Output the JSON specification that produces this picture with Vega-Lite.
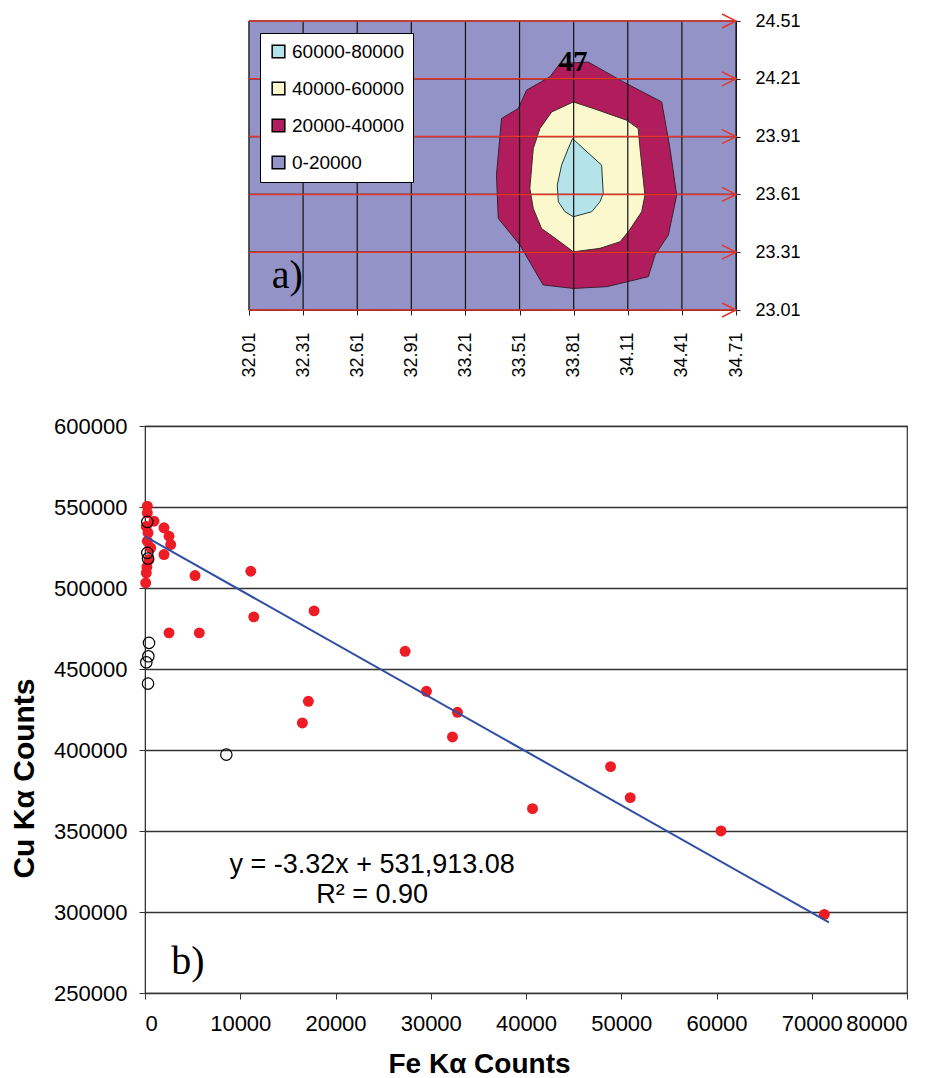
{
  "$schema": "https://vega.github.io/schema/vega-lite/v6.json",
  "background": "white",
  "padding": {"left": 8, "top": 10, "right": 5, "bottom": 0},
  "spacing": 36,
  "config": {
    "font": "Liberation Sans",
    "view": {"stroke": "#333", "strokeWidth": 1.2},
    "axis": {"labelColor": "#000", "domainColor": "#222", "tickColor": "#222", "labelFont": "Liberation Sans", "titleColor": "#000", "titleFont": "Liberation Sans"}
  },
  "datasets": {
    "poly": [
      {"band": "0-20000", "i": 0, "x": 32.01, "y": 23.01},
      {"band": "0-20000", "i": 1, "x": 34.71, "y": 23.01},
      {"band": "0-20000", "i": 2, "x": 34.71, "y": 24.51},
      {"band": "0-20000", "i": 3, "x": 32.01, "y": 24.51},
      {"band": "20000-40000", "i": 0, "x": 33.891, "y": 24.297},
      {"band": "20000-40000", "i": 1, "x": 34.085, "y": 24.194},
      {"band": "20000-40000", "i": 2, "x": 34.298, "y": 24.09},
      {"band": "20000-40000", "i": 3, "x": 34.344, "y": 23.848},
      {"band": "20000-40000", "i": 4, "x": 34.381, "y": 23.606},
      {"band": "20000-40000", "i": 5, "x": 34.335, "y": 23.399},
      {"band": "20000-40000", "i": 6, "x": 34.261, "y": 23.295},
      {"band": "20000-40000", "i": 7, "x": 34.224, "y": 23.183},
      {"band": "20000-40000", "i": 8, "x": 33.993, "y": 23.131},
      {"band": "20000-40000", "i": 9, "x": 33.808, "y": 23.122},
      {"band": "20000-40000", "i": 10, "x": 33.641, "y": 23.14},
      {"band": "20000-40000", "i": 11, "x": 33.512, "y": 23.347},
      {"band": "20000-40000", "i": 12, "x": 33.392, "y": 23.485},
      {"band": "20000-40000", "i": 13, "x": 33.382, "y": 23.71},
      {"band": "20000-40000", "i": 14, "x": 33.41, "y": 24.004},
      {"band": "20000-40000", "i": 15, "x": 33.503, "y": 24.056},
      {"band": "20000-40000", "i": 16, "x": 33.549, "y": 24.151},
      {"band": "20000-40000", "i": 17, "x": 33.678, "y": 24.22},
      {"band": "20000-40000", "i": 18, "x": 33.734, "y": 24.289},
      {"band": "40000-60000", "i": 0, "x": 33.808, "y": 24.09},
      {"band": "40000-60000", "i": 1, "x": 33.919, "y": 24.056},
      {"band": "40000-60000", "i": 2, "x": 34.104, "y": 23.995},
      {"band": "40000-60000", "i": 3, "x": 34.168, "y": 23.952},
      {"band": "40000-60000", "i": 4, "x": 34.178, "y": 23.848},
      {"band": "40000-60000", "i": 5, "x": 34.205, "y": 23.606},
      {"band": "40000-60000", "i": 6, "x": 34.187, "y": 23.52},
      {"band": "40000-60000", "i": 7, "x": 34.113, "y": 23.416},
      {"band": "40000-60000", "i": 8, "x": 34.067, "y": 23.364},
      {"band": "40000-60000", "i": 9, "x": 33.956, "y": 23.33},
      {"band": "40000-60000", "i": 10, "x": 33.808, "y": 23.312},
      {"band": "40000-60000", "i": 11, "x": 33.734, "y": 23.364},
      {"band": "40000-60000", "i": 12, "x": 33.632, "y": 23.433},
      {"band": "40000-60000", "i": 13, "x": 33.586, "y": 23.537},
      {"band": "40000-60000", "i": 14, "x": 33.567, "y": 23.641},
      {"band": "40000-60000", "i": 15, "x": 33.586, "y": 23.848},
      {"band": "40000-60000", "i": 16, "x": 33.623, "y": 23.952},
      {"band": "40000-60000", "i": 17, "x": 33.688, "y": 24.038},
      {"band": "60000-80000", "i": 0, "x": 33.804, "y": 23.9},
      {"band": "60000-80000", "i": 1, "x": 33.873, "y": 23.84},
      {"band": "60000-80000", "i": 2, "x": 33.965, "y": 23.762},
      {"band": "60000-80000", "i": 3, "x": 33.974, "y": 23.615},
      {"band": "60000-80000", "i": 4, "x": 33.956, "y": 23.572},
      {"band": "60000-80000", "i": 5, "x": 33.91, "y": 23.52},
      {"band": "60000-80000", "i": 6, "x": 33.808, "y": 23.494},
      {"band": "60000-80000", "i": 7, "x": 33.762, "y": 23.52},
      {"band": "60000-80000", "i": 8, "x": 33.725, "y": 23.572},
      {"band": "60000-80000", "i": 9, "x": 33.719, "y": 23.658},
      {"band": "60000-80000", "i": 10, "x": 33.743, "y": 23.762},
      {"band": "60000-80000", "i": 11, "x": 33.78, "y": 23.848}
    ],
    "gridx": [{"x": 32.01}, {"x": 32.31}, {"x": 32.61}, {"x": 32.91}, {"x": 33.21}, {"x": 33.51}, {"x": 33.81}, {"x": 34.11}, {"x": 34.41}, {"x": 34.71}],
    "arrows": [
      {"y": 23.01, "x": 32.01, "x2": 34.71},
      {"y": 23.31, "x": 32.01, "x2": 34.71},
      {"y": 23.61, "x": 32.01, "x2": 34.71},
      {"y": 23.91, "x": 32.01, "x2": 34.71},
      {"y": 24.21, "x": 32.01, "x2": 34.71},
      {"y": 24.51, "x": 32.01, "x2": 34.71}
    ],
    "labelsA": [
      {"x": 33.806, "y": 24.298, "label": "47", "kind": "peak"},
      {"x": 32.222, "y": 23.184, "label": "a)", "kind": "panel"}
    ],
    "red": [
      {"fe": 242, "cu": 550477}, {"fe": 242, "cu": 546400}, {"fe": 945, "cu": 541214},
      {"fe": 1996, "cu": 537139}, {"fe": 2521, "cu": 531951}, {"fe": 2700, "cu": 526826},
      {"fe": 1996, "cu": 520651}, {"fe": 137, "cu": 509350}, {"fe": 74, "cu": 503175},
      {"fe": 242, "cu": 528864}, {"fe": 316, "cu": 534050}, {"fe": 420, "cu": 517563},
      {"fe": 600, "cu": 524789}, {"fe": 137, "cu": 538000}, {"fe": 200, "cu": 513000},
      {"fe": 2521, "cu": 472301}, {"fe": 5700, "cu": 472301}, {"fe": 5252, "cu": 507684},
      {"fe": 11103, "cu": 510339}, {"fe": 11418, "cu": 482181}, {"fe": 17752, "cu": 485886},
      {"fe": 27310, "cu": 460939}, {"fe": 17153, "cu": 430064}, {"fe": 16523, "cu": 416726},
      {"fe": 29548, "cu": 436239}, {"fe": 32805, "cu": 423271}, {"fe": 32280, "cu": 408081},
      {"fe": 40683, "cu": 363806}, {"fe": 48876, "cu": 389741}, {"fe": 50944, "cu": 370599},
      {"fe": 60470, "cu": 350036}, {"fe": 71322, "cu": 298537}
    ],
    "open": [
      {"fe": 242, "cu": 540844}, {"fe": 242, "cu": 521700}, {"fe": 316, "cu": 518181},
      {"fe": 420, "cu": 466124}, {"fe": 350, "cu": 457851}, {"fe": 140, "cu": 454146},
      {"fe": 316, "cu": 440994}, {"fe": 8540, "cu": 397151}
    ],
    "trend": [{"fe": 0, "cu": 531913}, {"fe": 71800, "cu": 293537}],
    "eq": [
      {"fe": 23845, "cu": 329226, "label": "y = -3.32x + 531,913.08"},
      {"fe": 23845, "cu": 310700, "label": "R² = 0.90"}
    ],
    "blabel": [{"fe": 4517, "cu": 269329, "label": "b)"}]
  },
  "vconcat": [
    {
      "spacing": 0,
      "hconcat": [
        {
          "width": 94,
          "height": 289,
          "view": {"stroke": null},
          "data": {"values": [{"s": 0}]},
          "mark": {"type": "point", "opacity": 0}
        },
        {
          "width": 487,
          "height": 289,
          "layer": [
            {
              "data": {"name": "poly"},
              "transform": [{"filter": "datum.band === '0-20000'"}],
              "mark": {"type": "line", "interpolate": "linear-closed", "strokeWidth": 0},
              "encoding": {
                "x": {"field": "x", "type": "quantitative", "scale": {"domain": [32.01, 34.71], "nice": false, "zero": false},
                  "axis": {"title": null, "values": [32.01, 32.31, 32.61, 32.91, 33.21, 33.51, 33.81, 34.11, 34.41, 34.71], "format": ".2f", "grid": false, "labelAngle": -90, "labelFontSize": 18, "tickSize": 5, "labelPadding": 17, "domainColor": "#222"}},
                "y": {"field": "y", "type": "quantitative", "scale": {"domain": [23.01, 24.51], "nice": false, "zero": false},
                  "axis": {"title": null, "orient": "right", "values": [23.01, 23.31, 23.61, 23.91, 24.21, 24.51], "format": ".2f", "grid": false, "labelFontSize": 18, "tickSize": 4, "labelPadding": 15}},
                "order": {"field": "i", "type": "quantitative"},
                "fill": {"field": "band", "type": "nominal",
                  "scale": {"domain": ["60000-80000", "40000-60000", "20000-40000", "0-20000"], "range": ["#b5e3ea", "#fcf8cd", "#b11c5d", "#9393c8"]},
                  "legend": {"title": null, "orient": "none", "legendX": 115, "legendY": 12, "fillColor": "white", "strokeColor": "#000", "padding": 9, "symbolType": "square", "symbolSize": 160, "symbolStrokeColor": "#000", "symbolStrokeWidth": 1.5, "labelFontSize": 19, "labelFont": "Liberation Sans", "labelColor": "#000", "rowPadding": 17, "labelOffset": 4, "zindex": 1,
                    "encode": {"symbols": {"update": {"fill": {"scale": "fill", "field": "value"}, "stroke": {"value": "#000"}, "opacity": {"value": 1}}}}}
                }
              }
            },
            {
              "data": {"name": "poly"},
              "transform": [{"filter": "datum.band === '20000-40000'"}],
              "mark": {"type": "line", "interpolate": "linear-closed", "stroke": "#3a2030", "strokeWidth": 1},
              "encoding": {
                "x": {"field": "x", "type": "quantitative"},
                "y": {"field": "y", "type": "quantitative"},
                "order": {"field": "i", "type": "quantitative"},
                "fill": {"field": "band", "type": "nominal"}
              }
            },
            {
              "data": {"name": "poly"},
              "transform": [{"filter": "datum.band === '40000-60000'"}],
              "mark": {"type": "line", "interpolate": "linear-closed", "stroke": "#3a3020", "strokeWidth": 1},
              "encoding": {
                "x": {"field": "x", "type": "quantitative"},
                "y": {"field": "y", "type": "quantitative"},
                "order": {"field": "i", "type": "quantitative"},
                "fill": {"field": "band", "type": "nominal"}
              }
            },
            {
              "data": {"name": "poly"},
              "transform": [{"filter": "datum.band === '60000-80000'"}],
              "mark": {"type": "line", "interpolate": "linear-closed", "stroke": "#203a3a", "strokeWidth": 1},
              "encoding": {
                "x": {"field": "x", "type": "quantitative"},
                "y": {"field": "y", "type": "quantitative"},
                "order": {"field": "i", "type": "quantitative"},
                "fill": {"field": "band", "type": "nominal"}
              }
            },
            {
              "data": {"name": "gridx"},
              "mark": {"type": "rule", "color": "#111", "strokeWidth": 1.2},
              "encoding": {"x": {"field": "x", "type": "quantitative"}}
            },
            {
              "data": {"name": "arrows"},
              "mark": {"type": "rule", "color": "#111", "strokeWidth": 1.2},
              "encoding": {"y": {"field": "y", "type": "quantitative"}}
            },
            {
              "data": {"name": "arrows"},
              "mark": {"type": "rule", "color": "#e3352b", "strokeWidth": 1.5},
              "encoding": {
                "x": {"field": "x", "type": "quantitative"},
                "x2": {"field": "x2"},
                "y": {"field": "y", "type": "quantitative"}
              }
            },
            {
              "data": {"name": "arrows"},
              "mark": {"type": "point", "shape": "M-2,-1L0,0L-2,1", "size": 196, "filled": false, "stroke": "#e3352b", "strokeWidth": 1.5, "opacity": 1},
              "encoding": {
                "x": {"field": "x2", "type": "quantitative"},
                "y": {"field": "y", "type": "quantitative"}
              }
            },
            {
              "data": {"name": "labelsA"},
              "transform": [{"filter": "datum.kind === 'peak'"}],
              "mark": {"type": "text", "font": "Liberation Serif", "fontWeight": "bold", "fontSize": 29, "align": "center", "baseline": "middle", "color": "#000"},
              "encoding": {
                "x": {"field": "x", "type": "quantitative"},
                "y": {"field": "y", "type": "quantitative"},
                "text": {"field": "label"}
              }
            },
            {
              "data": {"name": "labelsA"},
              "transform": [{"filter": "datum.kind === 'panel'"}],
              "mark": {"type": "text", "font": "Liberation Serif", "fontSize": 40, "align": "center", "baseline": "middle", "color": "#000"},
              "encoding": {
                "x": {"field": "x", "type": "quantitative"},
                "y": {"field": "y", "type": "quantitative"},
                "text": {"field": "label"}
              }
            }
          ]
        }
      ]
    },
    {
      "width": 762,
      "height": 567,
      "layer": [
        {
          "data": {"name": "red"},
          "mark": {"type": "circle", "color": "#ee1c25", "size": 120, "opacity": 1},
          "encoding": {
            "x": {"field": "fe", "type": "quantitative", "scale": {"domain": [0, 80000], "nice": false},
              "axis": {"title": "Fe Kα Counts", "values": [0, 10000, 20000, 30000, 40000, 50000, 60000, 70000, 80000], "format": "d", "grid": false, "labelFontSize": 22, "labelPadding": 14, "tickSize": 6, "titleFontSize": 28, "titleFontWeight": "bold", "titleX": 334, "titleY": 71, "titleAlign": "center", "titleBaseline": "middle", "domainColor": "#333", "tickColor": "#333"}},
            "y": {"field": "cu", "type": "quantitative", "scale": {"domain": [250000, 600000], "nice": false, "zero": false},
              "axis": {"title": "Cu Kα Counts", "values": [250000, 300000, 350000, 400000, 450000, 500000, 550000, 600000], "format": "d", "grid": true, "gridColor": "#333", "gridWidth": 1.5, "labelFontSize": 22, "labelPadding": 12, "tickSize": 6, "titleFontSize": 30, "titleFontWeight": "bold", "titleX": -121, "titleY": 352, "titleAngle": -90, "titleAlign": "center", "titleBaseline": "middle", "domainColor": "#333", "tickColor": "#333"}}
          }
        },
        {
          "data": {"name": "open"},
          "mark": {"type": "point", "shape": "circle", "filled": false, "stroke": "#000", "strokeWidth": 1.2, "size": 130, "opacity": 1},
          "encoding": {
            "x": {"field": "fe", "type": "quantitative"},
            "y": {"field": "cu", "type": "quantitative"}
          }
        },
        {
          "data": {"name": "trend"},
          "mark": {"type": "line", "color": "#2f4fa3", "strokeWidth": 2},
          "encoding": {
            "x": {"field": "fe", "type": "quantitative"},
            "y": {"field": "cu", "type": "quantitative"}
          }
        },
        {
          "data": {"name": "eq"},
          "mark": {"type": "text", "fontSize": 27, "align": "center", "baseline": "middle", "color": "#000"},
          "encoding": {
            "x": {"field": "fe", "type": "quantitative"},
            "y": {"field": "cu", "type": "quantitative"},
            "text": {"field": "label"}
          }
        },
        {
          "data": {"name": "blabel"},
          "mark": {"type": "text", "font": "Liberation Serif", "fontSize": 40, "align": "center", "baseline": "middle", "color": "#000"},
          "encoding": {
            "x": {"field": "fe", "type": "quantitative"},
            "y": {"field": "cu", "type": "quantitative"},
            "text": {"field": "label"}
          }
        }
      ]
    }
  ]
}
